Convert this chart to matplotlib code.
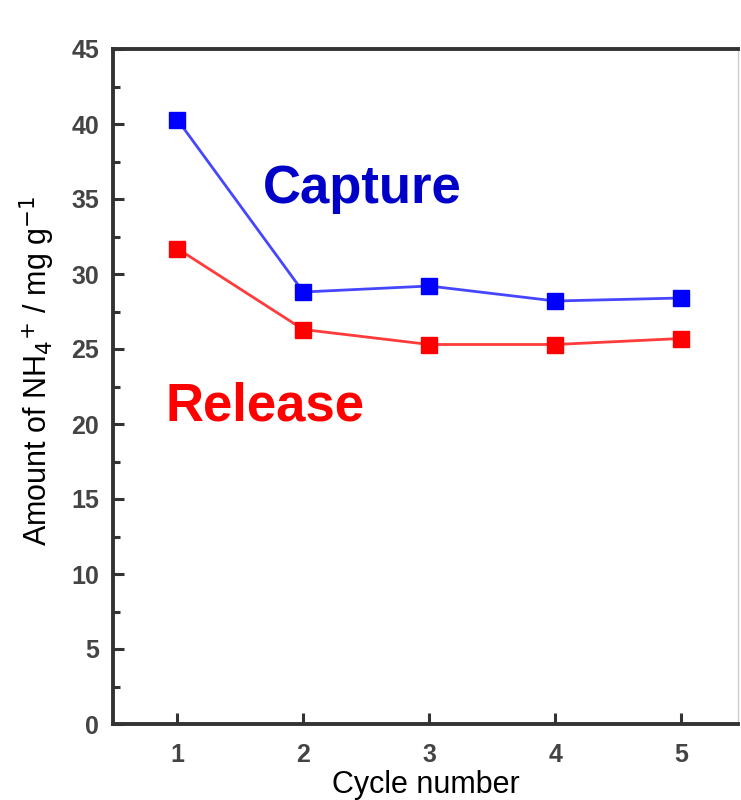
import numpy as np
import matplotlib
matplotlib.use('Agg')
import matplotlib.pyplot as plt
from matplotlib.ticker import MultipleLocator

plt.rcParams['font.family'] = ['Liberation Sans', 'DejaVu Sans']

# NH4+ uptake over repeated capture/release cycles
cycles = [1, 2, 3, 4, 5]
capture = [40.3, 28.8, 29.2, 28.2, 28.4]
release = [31.7, 26.3, 25.3, 25.3, 25.7]

fig = plt.figure(figsize=(7.41, 8.0), dpi=100)
ax = fig.add_axes([0.1525, 0.095, 0.8435, 0.84375])

ax.plot(cycles, capture, '-', color='#4646ff', lw=2, zorder=2)
ax.plot(cycles, capture, 's', color='#0000ff', ms=11.5, zorder=3)
ax.plot(cycles, release, '-', color='#ff3b3b', lw=2, zorder=2)
ax.plot(cycles, release, 's', color='#ff0000', ms=11.5, zorder=3)

ax.text(2.47, 35.65, 'Capture', color='#0000c8', fontsize=38, fontweight='bold',
        ha='center', va='center')
ax.text(1.70, 21.15, 'Release', color='#ff0000', fontsize=38, fontweight='bold',
        ha='center', va='center')

ax.set_xlim(0.49, 5.45)
ax.set_ylim(0, 45)
ax.set_xticks(cycles)
ax.yaxis.set_major_locator(MultipleLocator(5))
ax.yaxis.set_minor_locator(MultipleLocator(2.5))

ax.tick_params(axis='both', which='major', direction='in', length=8, width=2.2,
               color='#333333', labelcolor='#444444', labelsize=18)
ax.tick_params(axis='x', pad=14)
ax.tick_params(axis='y', pad=10)
ax.tick_params(axis='y', which='minor', direction='in', length=5, width=2.2,
               color='#333333')
for lab in ax.get_xticklabels() + ax.get_yticklabels():
    lab.set_fontweight('bold')

for side in ['left', 'bottom', 'top']:
    ax.spines[side].set_linewidth(2.8)
    ax.spines[side].set_color('#333333')
ax.spines['right'].set_linewidth(1)
ax.spines['right'].set_color('#cccccc')

ax.set_ylabel(r'Amount of NH$_4$$^{+}$ / mg g$^{-1}$', fontsize=22)
ax.yaxis.set_label_coords(-0.09, 0.523)
ax.set_xlabel('Cycle number', fontsize=22, labelpad=2)

fig.savefig('out.png', dpi=100)
